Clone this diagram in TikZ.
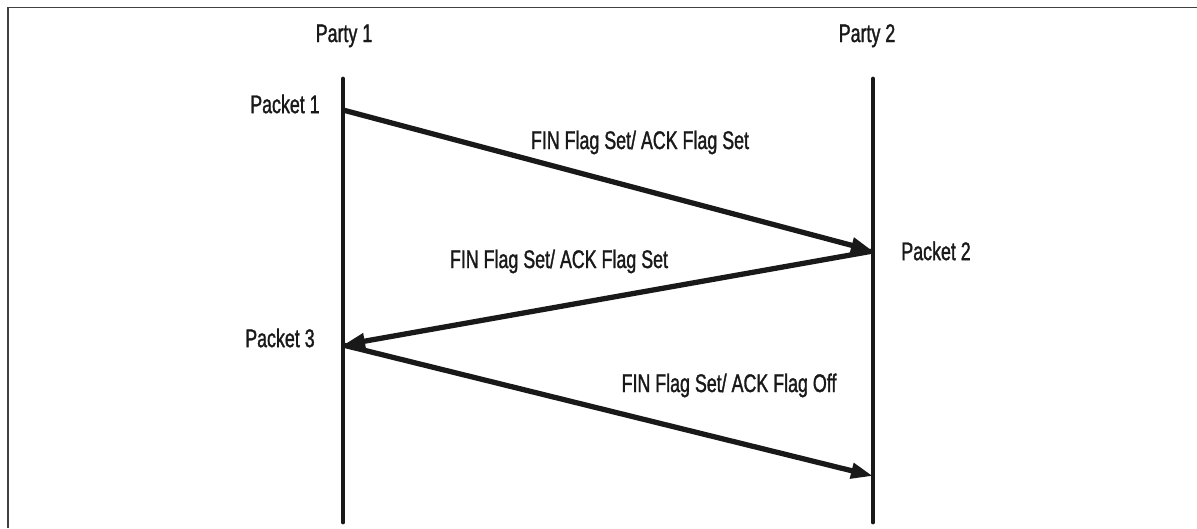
\documentclass[tikz,border=0pt]{standalone}
\usepackage{fontspec}
\newfontfamily\labelfont[FakeStretch=0.7,FakeBold=1.3]{Liberation Sans}
\usetikzlibrary{arrows.meta,positioning}
\tikzset{
    frame/.style={draw=black!75,line width=0.85pt},
    lifeline/.style={draw=black!90,line width=2.8pt,line cap=round},
    msg/.style={-{Triangle[length=4.4mm,width=3mm]},draw=black!90,line width=3pt},
    tag/.style={inner sep=0pt,font=\labelfont\fontsize{14.5}{17}\selectfont,text=black!90}
}

\begin{document}
\begin{tikzpicture}[x=0.02cm,y=-0.02cm]

    \useasboundingbox (0,0) rectangle (1197,528);
    \draw[frame] (8,528) -- (8,7.5) -- (1197,7.5);

    % the two parties
    \coordinate (p1 top) at (343,79);
    \coordinate (p1 bot) at (343,522);
    \coordinate (p2 top) at (873,79);
    \coordinate (p2 bot) at (873,522);
    \draw[lifeline] (p1 top) -- (p1 bot);
    \draw[lifeline] (p2 top) -- (p2 bot);

    \node[tag,anchor=base] (party 1) at (344,42) {Party 1};
    \node[tag,anchor=base] (party 2) at (867,42) {Party 2};

    % where the packets leave and arrive
    \coordinate (pkt 1) at (343,110);
    \coordinate (pkt 2) at (873,251);
    \coordinate (pkt 3) at (343,345);
    \coordinate (pkt end) at (873,476);

    \node[tag] (packet 1) [left=4.6mm of pkt 1,yshift=1.2mm]  {Packet 1};
    \node[tag] (packet 2) [right=5.6mm of pkt 2]              {Packet 2};
    \node[tag] (packet 3) [left=5.6mm of pkt 3,yshift=1.4mm]  {Packet 3};

    \draw[msg] (pkt 1) -- (pkt 2);
    \draw[msg] (pkt 2) -- (pkt 3);
    \draw[msg] (pkt 3) -- (pkt end);

    \node[tag,anchor=base] (flags 1) at (640,149) {FIN Flag Set/ ACK Flag Set};
    \node[tag,anchor=base] (flags 2) at (559,268) {FIN Flag Set/ ACK Flag Set};
    \node[tag,anchor=base] (flags 3) at (729,392) {FIN Flag Set/ ACK Flag Off};

\end{tikzpicture}
\end{document}
